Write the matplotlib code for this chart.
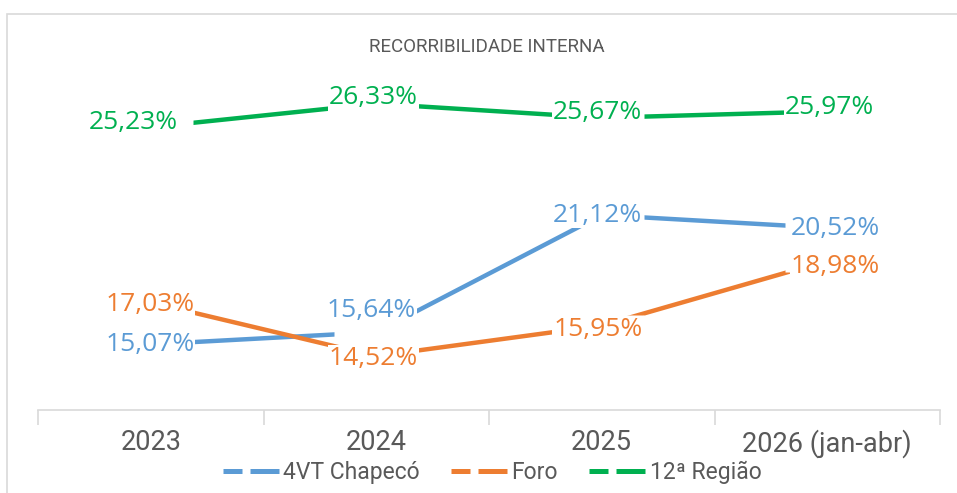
import matplotlib.pyplot as plt
from matplotlib.patches import Rectangle
from matplotlib.lines import Line2D

# categorias e series (valores em %)
anos = ["2023", "2024", "2025", "2026 (jan-abr)"]
chapeco = [15.07, 15.64, 21.12, 20.52]
foro = [17.03, 14.52, 15.95, 18.98]
regiao = [25.23, 26.33, 25.67, 25.97]
nomes = ["4VT Chapecó", "Foro", "12ª Região"]
cores = ["#5B9BD5", "#ED7D31", "#00B050"]

# deslocamento dos rotulos (pixels), como foram arrastados no excel
desloc = [
    [(-1, 0), (-5, 22), (-4, 0), (8, -1)],
    [(-1, -2), (-3, -2), (-4, -4), (8, -6)],
    [(-17, 5), (-3, 6), (-4, 5), (2, 4)],
]

narrow = ["Roboto", "DejaVu Sans"]
label_font = ["Open Sans", "DejaVu Sans"]
cinza = "#595959"

fig = plt.figure(figsize=(9.57, 4.93), dpi=100)
ax = fig.add_axes([38 / 957, 1 - 410 / 493, (940 - 38) / 957, (410 - 68) / 493])

# borda do grafico (cortada a direita e embaixo)
fig.patches.append(Rectangle((7 / 957, -0.2), 1.2, 1.2 - 14 / 493,
                             transform=fig.transFigure, fill=False,
                             edgecolor="#D9D9D9", linewidth=1.2))

# caixa branca que corta a linha em volta de cada ponto
caixa = [(-44, -12), (44, -12), (44, 12), (-44, 12)]

x = range(len(anos))
for serie, cor, offs in zip([chapeco, foro, regiao], cores, desloc):
    ax.plot(x, serie, color=cor, linewidth=3.2, solid_capstyle="butt", zorder=2)
    ax.plot(x, serie, linestyle="none", marker=caixa, markersize=84 / 1.389,
            markerfacecolor="white", markeredgecolor="none", zorder=2.5)
    for xi, v, (dx, dy) in zip(x, serie, offs):
        txt = f"{v:.2f}%".replace(".", ",")
        ax.annotate(txt, (xi, v), xytext=(dx / 1.389, dy / 1.389),
                    textcoords="offset points", ha="center", va="center",
                    fontsize=19, family=label_font, color=cor, zorder=3,
                    bbox=dict(facecolor="white", edgecolor="none", pad=0.5))

ax.set_xlim(-0.5, len(anos) - 0.5)
ax.set_ylim(12, 28)
ax.set_yticks([])
for s in ["top", "right", "left"]:
    ax.spines[s].set_visible(False)
ax.spines["bottom"].set_color("#D9D9D9")
ax.spines["bottom"].set_linewidth(1.2)

ax.set_xticks(list(x))
ax.set_xticklabels(anos, family=narrow, fontsize=19.5, color=cinza)
ax.tick_params(axis="x", which="major", length=0, pad=14)
ax.set_xticks([i - 0.5 for i in range(len(anos) + 1)], minor=True)
ax.tick_params(axis="x", which="minor", length=11, color="#D9D9D9", width=1.2)

fig.text(487 / 957, 1 - 47 / 493, "RECORRIBILIDADE INTERNA", ha="center",
         va="center", family=narrow, fontsize=13.5, color=cinza)

handles = [Line2D([0], [0], color=c, linewidth=3.6,
                  linestyle=(0, (3.8, 1.6, 5.8, 1.6)))
           for c in cores]
fig.legend(handles, nomes, loc="center", bbox_to_anchor=(492 / 957, 1 - 472 / 493),
           ncol=3, frameon=False, prop={"family": narrow, "size": 16.5},
           labelcolor=cinza, handlelength=2.45, handletextpad=0.2,
           columnspacing=1.35)

fig.savefig("out.png", dpi=100)
